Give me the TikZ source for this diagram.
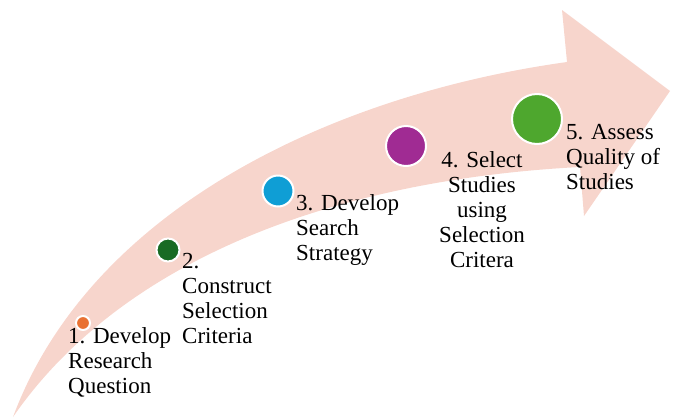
\documentclass[tikz,border=0pt]{standalone}
\usepackage{fontspec}
\setmainfont{Liberation Serif}
\usetikzlibrary{calc,positioning}
\definecolor{arrowpink}{RGB}{247,213,204}
\definecolor{stepone}{HTML}{E97132}
\definecolor{steptwo}{HTML}{196B24}
\definecolor{stepthree}{HTML}{0F9ED5}
\definecolor{stepfour}{HTML}{A02B93}
\definecolor{stepfive}{HTML}{4EA72E}

\begin{document}
\begin{tikzpicture}[x=1pt,y=-1pt,
  dot/.style={circle,draw=white,line width=2pt,inner sep=0pt},
  lbl/.style={inner sep=0pt,align=left,font=\fontsize{23}{25}\selectfont}]
  \useasboundingbox (0,0) rectangle (676,418);
  % the curved arrow
  \coordinate (T) at (13,417);
  \coordinate (U) at (567,62);
  \coordinate (H1) at (562,10);
  \coordinate (H2) at (670,91);
  \coordinate (H3) at (584,216);
  \coordinate (L) at (580,167);
  \fill[arrowpink] (T) .. controls (90,210) and (330,95) .. (U) -- (H1) -- (H2) -- (H3) -- (L)
    .. controls (330,180) and (120,262) .. (T) -- cycle;
  % dots along the arrow
  \node[dot,fill=stepone,minimum size=14pt] (c1) at (83,323) {};
  \node[dot,fill=steptwo,minimum size=23pt] (c2) at (168,250) {};
  \node[dot,fill=stepthree,minimum size=31pt] (c3) at (278,191) {};
  \node[dot,fill=stepfour,minimum size=40pt] (c4) at (406,146) {};
  \node[dot,fill=stepfive,minimum size=50pt] (c5) at (537,119) {};
  % step texts (base = baseline of the last line)
  \node[lbl,anchor=base west] (t1) at (68,393) {1. Develop\\Research\\Question};
  \node[lbl,anchor=base west] (t2) at (182,343) {2.\\Construct\\Selection\\Criteria};
  \node[lbl,anchor=base west] (t3) at (296,260) {3. Develop\\Search\\Strategy};
  \node[lbl,align=center,anchor=base] (t4) at (482,267) {4. Select\\Studies\\using\\Selection\\Critera};
  \node[lbl,anchor=base west] (t5) at (566,189) {5. Assess\\Quality of\\Studies};
\end{tikzpicture}
\end{document}
